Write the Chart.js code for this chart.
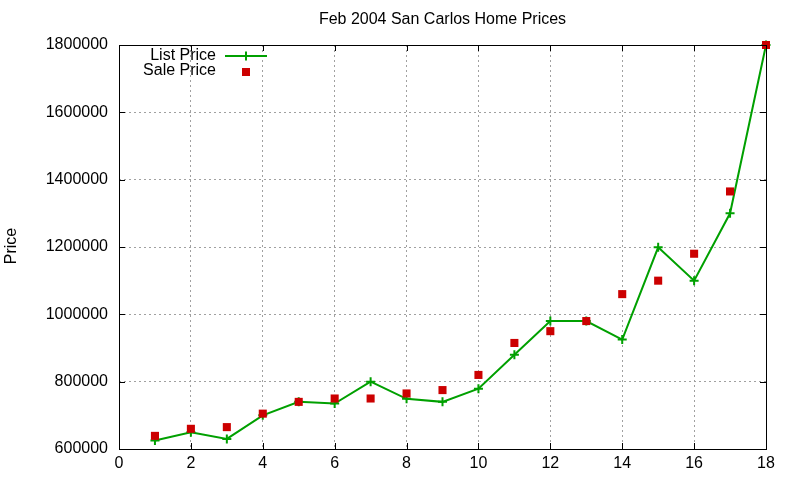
<!DOCTYPE html>
<html>
<head>
<meta charset="utf-8">
<title>Feb 2004 San Carlos Home Prices</title>
<script src="https://cdn.jsdelivr.net/npm/chart.js@4"></script>
<style>
  html, body { margin: 0; padding: 0; background: #fff; }
  #wrap { width: 800px; height: 480px; }
</style>
</head>
<body>
<div id="wrap"><canvas id="priceChart" width="800" height="480"></canvas></div>
<script>
// 数据
const houses = [1, 2, 3, 4, 5, 6, 7, 8, 9, 10, 11, 12, 13, 14, 15, 16, 17, 18];
const listPrice = [625000, 650000, 630000, 700000, 740000, 735000, 800000, 749000, 740000,
                   779000, 880000, 980000, 980000, 925000, 1199000, 1100000, 1300000, 1800000];
const salePrice = [639000, 660000, 665000, 705000, 740000, 750000, 750000, 765000, 775000,
                   820000, 915000, 950000, 980000, 1060000, 1100000, 1180000, 1365000, 1800000];
const xTicks = [0, 2, 4, 6, 8, 10, 12, 14, 16, 18];
const yTicks = [600000, 800000, 1000000, 1200000, 1400000, 1600000, 1800000];

const FONT = '"Liberation Sans", Arial, sans-serif';
const GREEN = '#00a000';
const RED = '#cc0000';

// 边框、刻度、标题、图例
const gnuplotLook = {
    id: 'gnuplotLook',
    afterDatasetsDraw(chart) {
        const ctx = chart.ctx;
        const a = chart.chartArea;
        const xs = chart.scales.x;
        const ys = chart.scales.y;
        ctx.save();

        ctx.strokeStyle = '#000';
        ctx.lineWidth = 1;
        ctx.beginPath();
        xTicks.forEach(v => {
            const px = Math.round(xs.getPixelForValue(v)) + 0.5;
            ctx.moveTo(px, a.bottom); ctx.lineTo(px, a.bottom - 6);
            ctx.moveTo(px, a.top); ctx.lineTo(px, a.top + 6);
        });
        yTicks.forEach(v => {
            const py = Math.round(ys.getPixelForValue(v)) + 0.5;
            ctx.moveTo(a.left, py); ctx.lineTo(a.left + 6, py);
            ctx.moveTo(a.right, py); ctx.lineTo(a.right - 6, py);
        });
        ctx.stroke();
        ctx.strokeRect(Math.round(a.left) + 0.5, Math.round(a.top) + 0.5,
                       Math.round(a.right - a.left), Math.round(a.bottom - a.top));

        ctx.fillStyle = '#000';
        ctx.font = '16px ' + FONT;
        ctx.textAlign = 'center';
        ctx.textBaseline = 'middle';
        ctx.fillText('Feb 2004 San Carlos Home Prices', (a.left + a.right) / 2, 20);

        ctx.save();
        ctx.translate(12, 246);
        ctx.rotate(-Math.PI / 2);
        ctx.fillText('Price', 0, 0);
        ctx.restore();

        // 图例
        ctx.textAlign = 'right';
        ctx.fillText('List Price', 216, 56);
        ctx.fillText('Sale Price', 216, 71);
        ctx.strokeStyle = GREEN;
        ctx.lineWidth = 2;
        ctx.beginPath();
        ctx.moveTo(225, 56); ctx.lineTo(267, 56);
        ctx.stroke();
        Chart.helpers.drawPoint(ctx, { pointStyle: 'cross', radius: 4.5, borderWidth: 2 }, 246, 56);
        ctx.fillStyle = RED;
        ctx.strokeStyle = RED;
        ctx.lineWidth = 0;
        Chart.helpers.drawPoint(ctx, { pointStyle: 'rect', radius: 5.7, borderWidth: 0 }, 246, 72);
        ctx.restore();
    }
};

new Chart(document.getElementById('priceChart'), {
    type: 'line',
    data: {
        datasets: [{
            label: 'List Price',
            data: houses.map((h, i) => ({ x: h, y: listPrice[i] })),
            borderColor: GREEN,
            backgroundColor: GREEN,
            borderWidth: 2,
            pointStyle: 'cross',
            pointRadius: 4.5,
            pointBorderWidth: 2,
            tension: 0,
            fill: false,
            clip: false,
            order: 2
        }, {
            label: 'Sale Price',
            data: houses.map((h, i) => ({ x: h, y: salePrice[i] })),
            showLine: false,
            borderColor: RED,
            backgroundColor: RED,
            borderWidth: 0,
            pointStyle: 'rect',
            pointRadius: 5.7,
            pointBorderWidth: 0,
            clip: false,
            order: 1
        }]
    },
    options: {
        responsive: false,
        animation: false,
        layout: { padding: { top: 45, right: 34, left: 0, bottom: 0 } },
        plugins: {
            legend: { display: false },
            title: { display: false },
            tooltip: { enabled: false }
        },
        scales: {
            x: {
                type: 'linear',
                min: 0,
                max: 18,
                afterFit: s => { s.height = 31; },
                afterBuildTicks: s => { s.ticks = xTicks.map(v => ({ value: v })); },
                border: { display: false, dash: [2, 3] },
                grid: { color: '#a0a0a0', lineWidth: 1, drawTicks: false },
                ticks: { color: '#000', font: { family: FONT, size: 16 }, padding: 5, maxRotation: 0 }
            },
            y: {
                min: 600000,
                max: 1800000,
                afterFit: s => { s.width = 119; },
                afterBuildTicks: s => { s.ticks = yTicks.map(v => ({ value: v })); },
                border: { display: false, dash: [2, 3] },
                grid: { color: '#a0a0a0', lineWidth: 1, drawTicks: false },
                ticks: { color: '#000', font: { family: FONT, size: 16 }, padding: 11,
                         callback: v => String(v) }
            }
        }
    },
    plugins: [gnuplotLook]
});
</script>
</body>
</html>
